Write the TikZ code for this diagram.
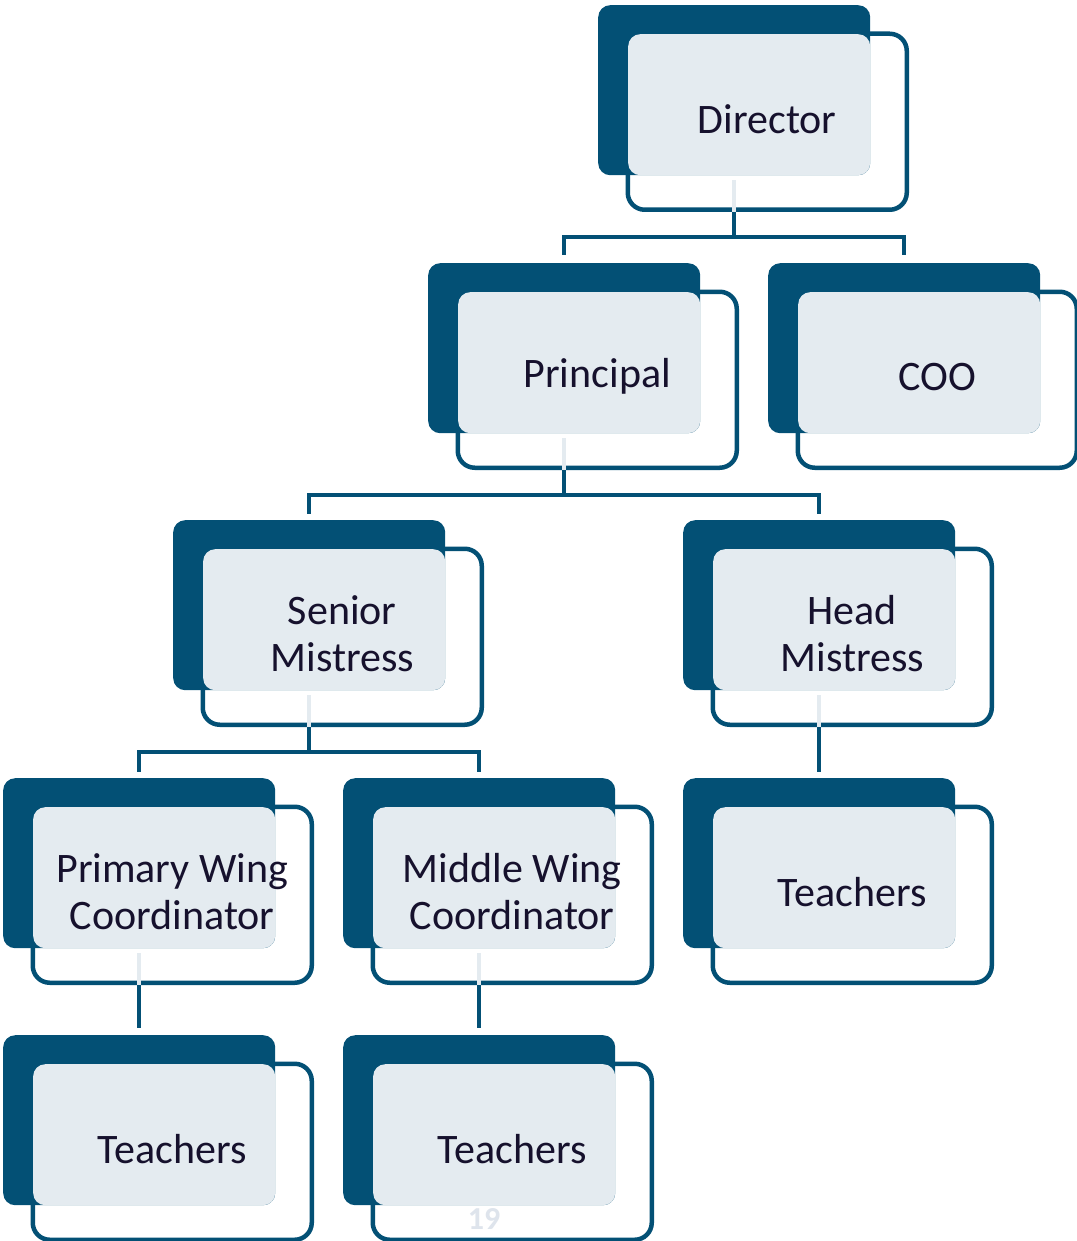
\documentclass[tikz,border=0pt]{standalone}
\usepackage{fontspec}
\setmainfont{Carlito}
\usetikzlibrary{positioning,calc}
\definecolor{unitdark}{RGB}{3,80,117}
\definecolor{unitlight}{RGB}{228,235,240}
\definecolor{unittext}{RGB}{22,17,45}
\definecolor{pagenum}{RGB}{222,228,236}

\tikzset{
  darkbox/.style={fill=unitdark, rounded corners=12pt, minimum width=272pt, minimum height=170pt, inner sep=0pt},
  lightbox/.style={fill=unitlight, rounded corners=12pt, minimum width=242pt, minimum height=141pt, inner sep=0pt},
  framebox/.style={draw=unitdark, fill=white, line width=4.5pt, rounded corners=17pt, minimum width=279pt, minimum height=176pt, inner sep=0pt},
  unitlabel/.style={text=unittext, align=center, font=\fontsize{42}{47}\selectfont},
  link/.style={draw=unitdark, line width=4.5pt},
  innerlink/.style={draw=unitlight, line width=4.5pt}
}

% [extra], name, left, top, text
\newcommand{\orgunit}[5][]{
  \node[framebox, anchor=north west] (#2-o) at ({#3+27.5},{#4+26.5}) {};
  \node[darkbox, anchor=north west] (#2) at (#3,#4) {};
  #1
  \node[lightbox, anchor=south east] (#2-l) at (#2.south east) {};
  \node[unitlabel] (#2-t) at ([yshift=3pt]#2-o.center) {#5};
}

\begin{document}
\begin{tikzpicture}[x=1pt,y=-1pt]
  \useasboundingbox (0,0) rectangle (1076,1241);

  \orgunit{dir}{598}{5}{Director}
  \orgunit{prin}{428}{263}{Principal}
  \orgunit{coo}{768}{263}{COO}
  \orgunit{senior}{173}{520}{Senior\\Mistress}
  \orgunit{head}{683}{520}{Head\\Mistress}
  \orgunit{primary}{3}{778}{Primary Wing\\Coordinator}
  \orgunit{middle}{343}{778}{Middle Wing\\Coordinator}
  \orgunit{teachh}{683}{778}{Teachers}
  \orgunit{teachp}{3}{1035}{Teachers}
  \orgunit[{\node[text=pagenum, font=\bfseries\fontsize{32}{32}\selectfont, anchor=base] (pageno) at (484,1229) {19};}]{teachm}{343}{1035}{Teachers}

  % connectors
  \foreach \u in {dir,prin,senior,head,primary,middle}
    \draw[innerlink] ([yshift=-5pt]\u.south) -- (\u.south |- \u-o.south);

  \draw[link] (dir.south |- dir-o.south) -- ++(0,25) coordinate (bus1) -| ([yshift=8pt]prin.north);
  \draw[link] (bus1) -| ([yshift=8pt]coo.north);

  \draw[link] (prin.south |- prin-o.south) -- ++(0,25) coordinate (bus2) -| ([yshift=6pt]senior.north);
  \draw[link] (bus2) -| ([yshift=6pt]head.north);

  \draw[link] (senior.south |- senior-o.south) -- ++(0,25) coordinate (bus3) -| ([yshift=6pt]primary.north);
  \draw[link] (bus3) -| ([yshift=6pt]middle.north);

  \draw[link] (head.south |- head-o.south) -- ([yshift=6pt]teachh.north);
  \draw[link] (primary.south |- primary-o.south) -- ([yshift=7pt]teachp.north);
  \draw[link] (middle.south |- middle-o.south) -- ([yshift=7pt]teachm.north);
\end{tikzpicture}
\end{document}
